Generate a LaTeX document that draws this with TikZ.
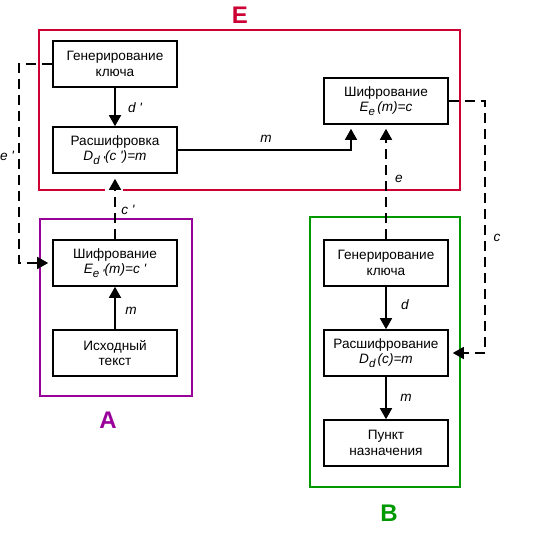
\documentclass[tikz,border=0pt]{standalone}
\usepackage{fontspec}
\setmainfont{Liberation Sans}
\usetikzlibrary{arrows.meta}
\definecolor{frameE}{HTML}{CC0033}
\definecolor{frameA}{HTML}{990099}
\definecolor{frameB}{HTML}{009900}
\newcommand{\pr}{\textquotesingle}
\newcommand{\lowsub}[1]{\raisebox{-4pt}{\fontsize{11.5}{11.5}\selectfont #1}}

\begin{document}
\begin{tikzpicture}[x=1pt,y=1pt]
	\tikzstyle{every node}+=[inner sep=0pt]
	\tikzstyle{block}=[draw,line width=1.6pt,minimum width=124pt,minimum height=46pt,align=center,font=\fontsize{13.6}{15.5}\selectfont]
	\tikzstyle{flow}=[line width=1.6pt,-{Triangle[length=11pt,width=12pt]}]
	\tikzstyle{keyflow}=[flow,dash pattern=on 10pt off 6pt]
	\tikzstyle{lbl}=[font=\fontsize{13.6}{15.5}\selectfont\itshape]
	\tikzstyle{party}=[font=\fontsize{24}{24}\selectfont\bfseries]
	\tikzstyle{frame}=[line width=1.6pt]
	\useasboundingbox (0,0) rectangle (550,-541);
	% frames
	\draw [frame,frameE] (39,-30) rectangle (460,-190);
	\draw [frame,frameA] (40,-219) rectangle (192,-396);
	\draw [frame,frameB] (310,-217) rectangle (460,-487);
	\node [party,text=frameE] (labE) at (240,-15) {E};
	\node [party,text=frameA] (labA) at (108,-420) {A};
	\node [party,text=frameB] (labB) at (389,-513) {B};
	% blocks
	\node [block,fill=white] (genE) at (115,-64) {Генерирование\\ключа};
	\node [block] (decE) at (115,-150) {Расшифровка\\{\itshape D\lowsub{d \pr}(c \pr)=m}};
	\node [block] (encE) at (386,-101) {Шифрование\\{\itshape E\lowsub{e}\,(m)=c}};
	\node [block] (encA) at (115,-263) {Шифрование\\{\itshape E\lowsub{e \pr}(m)=c \pr}};
	\node [block] (srcA) at (115,-353) {Исходный\\текст};
	\node [block] (genB) at (386,-263) {Генерирование\\ключа};
	\node [block] (decB) at (386,-353) {Расшифрование\\{\itshape D\lowsub{d}\,(c)=m}};
	\node [block] (dstB) at (386,-443) {Пункт\\назначения};
	% connectors
	\draw [flow] (genE) -- (decE);
	\draw [flow,shorten >=4pt] (decE.east) -| ([xshift=-35pt]encE.south);
	\draw [flow] (srcA) -- (encA);
	\draw [flow] (genB) -- (decB);
	\draw [flow] (decB) -- (dstB);
	\fill [white] (105,-185) rectangle (123,-194);
	\draw [keyflow,shorten >=5pt] (encA.north) -- (decE.south);
	\draw [keyflow,shorten >=4pt] (genE.west) -- ++(-33,0) |- (encA.west);
	\draw [keyflow,shorten >=4pt] (genB.north) -- (encE.south);
	\draw [keyflow,shorten >=4pt] (encE.east) -- ++(36,0) |- (decB.east);
	% labels
	\node [lbl] (ldE) at (135,-108) {d \pr};
	\node [lbl] (lmE) at (266,-139) {m};
	\node [lbl] (lepr) at (7,-156) {e \pr};
	\node [lbl] (lcpr) at (128,-210) {c \pr};
	\node [lbl] (lmA) at (131,-311) {m};
	\node [lbl] (le) at (399,-179) {e};
	\node [lbl] (lc) at (497,-238) {c};
	\node [lbl] (ldB) at (405,-305) {d};
	\node [lbl] (lmB) at (406,-398) {m};
\end{tikzpicture}
\end{document}
